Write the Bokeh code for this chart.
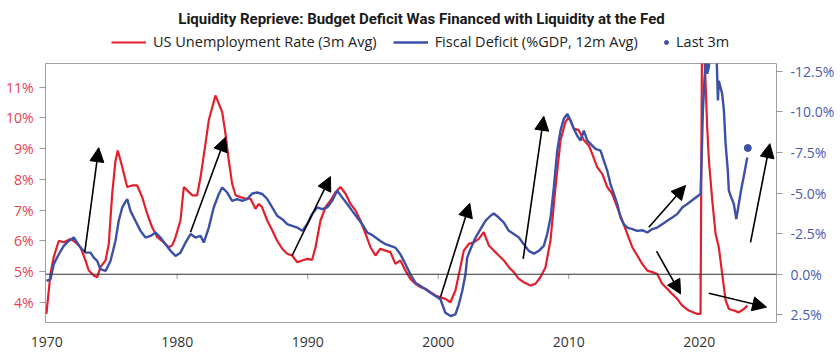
from bokeh.plotting import figure
from bokeh.layouts import column
from bokeh.models import (Range1d, LinearAxis, FixedTicker, PrintfTickFormatter, Legend, LegendItem,
                          Span, Arrow, NormalHead, Label)
from bokeh.embed import file_html
from bokeh.resources import INLINE

TITLE = "Liquidity Reprieve: Budget Deficit Was Financed with Liquidity at the Fed"
LABEL_UNEMP = "US Unemployment Rate (3m Avg)"
LABEL_FISCAL = "Fiscal Deficit (%GDP, 12m Avg)"
LABEL_LAST = "Last 3m"

# US unemployment rate, 3m avg (%)
unemp_year = [1969.98, 1970.29, 1970.54, 1970.93, 1971.31, 1971.82, 1972.21, 1972.59, 1972.97, 1973.23,
              1973.61, 1973.87, 1974.12, 1974.51, 1974.76, 1975.02, 1975.27, 1975.45, 1975.79, 1976.17,
              1976.55, 1976.93, 1977.32, 1977.70, 1978.08, 1978.47, 1978.97, 1979.36, 1979.62, 1979.87,
              1980.25, 1980.51, 1980.77, 1981.15, 1981.53, 1981.79, 1982.17, 1982.42, 1982.93, 1983.19,
              1983.45, 1983.70, 1983.95, 1984.21, 1984.47, 1984.85, 1985.23, 1985.62, 1986.00, 1986.25,
              1986.51, 1986.90, 1987.28, 1987.66, 1988.05, 1988.43, 1988.81, 1989.20, 1989.58, 1989.96,
              1990.34, 1990.60, 1990.98, 1991.36, 1991.75, 1992.13, 1992.51, 1992.90, 1993.28, 1993.66,
              1994.04, 1994.43, 1994.81, 1995.19, 1995.57, 1995.96, 1996.34, 1996.72, 1997.10, 1997.49,
              1997.87, 1998.25, 1998.64, 1999.02, 1999.40, 1999.79, 2000.17, 2000.55, 2000.94, 2001.32,
              2001.70, 2001.96, 2002.34, 2002.73, 2003.11, 2003.49, 2003.88, 2004.26, 2004.64, 2005.03,
              2005.41, 2005.79, 2006.18, 2006.56, 2007.07, 2007.45, 2007.84, 2008.22, 2008.60, 2008.99,
              2009.37, 2009.75, 2010.01, 2010.39, 2010.77, 2011.16, 2011.54, 2011.80, 2012.18, 2012.57,
              2012.95, 2013.33, 2013.72, 2014.10, 2014.48, 2014.87, 2015.25, 2015.63, 2016.02, 2016.40,
              2016.78, 2017.16, 2017.55, 2017.93, 2018.31, 2018.70, 2019.20, 2019.85, 2020.10, 2020.22,
              2020.32, 2020.48, 2020.61, 2020.74, 2021.00, 2021.25, 2021.50, 2021.76, 2022.02, 2022.27,
              2022.65, 2023.03, 2023.42, 2023.68]
unemp_rate = [3.62, 4.92, 5.47, 6.00, 5.95, 6.06, 5.95, 5.79, 5.36, 5.03,
              4.87, 4.81, 5.14, 5.36, 5.90, 7.53, 8.60, 8.94, 8.40, 7.75,
              7.80, 7.80, 7.42, 6.88, 6.44, 6.12, 5.95, 5.79, 5.85, 6.12,
              6.66, 7.75, 7.64, 7.48, 7.48, 8.07, 9.16, 9.92, 10.73, 10.46,
              10.19, 9.49, 8.62, 7.86, 7.48, 7.42, 7.37, 7.37, 7.04, 7.20,
              7.09, 6.66, 6.34, 6.00, 5.74, 5.58, 5.52, 5.30, 5.36, 5.41,
              5.38, 5.79, 6.66, 7.09, 7.31, 7.58, 7.75, 7.53, 7.20, 6.99,
              6.66, 6.23, 5.79, 5.52, 5.74, 5.68, 5.63, 5.25, 5.36, 5.03,
              4.76, 4.60, 4.49, 4.44, 4.33, 4.22, 4.16, 4.11, 4.00, 4.38,
              5.14, 5.68, 5.90, 5.95, 6.06, 6.28, 5.85, 5.68, 5.52, 5.36,
              5.14, 4.98, 4.76, 4.65, 4.54, 4.60, 4.82, 5.14, 6.00, 7.75,
              9.27, 9.87, 10.03, 9.65, 9.60, 9.27, 9.10, 8.83, 8.40, 8.18,
              7.75, 7.53, 7.09, 6.66, 6.23, 5.79, 5.52, 5.25, 5.03, 4.98,
              4.92, 4.60, 4.44, 4.27, 4.11, 3.89, 3.73, 3.62, 3.62, 13.2,
              13.0, 11.2, 9.70, 8.62, 7.31, 6.23, 5.79, 4.92, 4.06, 3.78,
              3.73, 3.67, 3.78, 3.89]

# Fiscal balance, % of GDP, 12m avg (negative = deficit)
fiscal_year = [1969.98, 1970.29, 1970.54, 1970.93, 1971.31, 1971.69, 1972.08, 1972.34, 1972.59, 1972.97,
               1973.36, 1973.61, 1973.87, 1974.12, 1974.51, 1974.89, 1975.27, 1975.52, 1975.79, 1976.17,
               1976.42, 1976.80, 1977.19, 1977.57, 1977.95, 1978.34, 1978.72, 1979.10, 1979.49, 1979.87,
               1980.25, 1980.64, 1981.02, 1981.40, 1981.79, 1982.04, 1982.42, 1982.80, 1983.19, 1983.45,
               1983.83, 1984.21, 1984.60, 1984.98, 1985.36, 1985.75, 1986.13, 1986.51, 1986.90, 1987.28,
               1987.66, 1988.05, 1988.43, 1988.81, 1989.20, 1989.58, 1989.96, 1990.34, 1990.73, 1991.11,
               1991.49, 1991.88, 1992.26, 1992.64, 1993.03, 1993.41, 1993.79, 1994.18, 1994.56, 1994.81,
               1995.20, 1995.57, 1995.96, 1996.34, 1996.72, 1997.10, 1997.49, 1997.87, 1998.25, 1998.64,
               1999.02, 1999.40, 1999.79, 2000.17, 2000.55, 2000.94, 2001.32, 2001.58, 2001.84, 2002.09,
               2002.22, 2002.47, 2002.86, 2003.24, 2003.62, 2004.01, 2004.26, 2004.64, 2005.03, 2005.41,
               2005.79, 2006.18, 2006.56, 2006.94, 2007.33, 2007.71, 2008.09, 2008.35, 2008.61, 2008.86,
               2009.12, 2009.37, 2009.62, 2009.89, 2010.14, 2010.39, 2010.65, 2010.90, 2011.16, 2011.42,
               2011.67, 2012.05, 2012.44, 2012.69, 2012.95, 2013.20, 2013.46, 2013.72, 2013.97, 2014.22,
               2014.48, 2014.87, 2015.25, 2015.63, 2016.02, 2016.40, 2016.78, 2017.16, 2017.55, 2017.93,
               2018.31, 2018.70, 2019.08, 2019.59, 2020.10, 2020.18, 2020.28, 2020.41, 2020.54, 2020.61,
               2020.74, 2020.87, 2021.10, 2021.33, 2021.43, 2021.50, 2021.76, 2021.89, 2022.02, 2022.19,
               2022.27, 2022.45, 2022.65, 2022.84, 2023.03, 2023.22, 2023.42, 2023.68]
fiscal_bal = [0.41, 0.31, -0.62, -1.23, -1.75, -2.05, -2.26, -1.95, -1.64, -1.33,
              -1.33, -1.02, -0.82, -0.31, -0.20, -0.82, -2.05, -3.29, -4.11, -4.63,
              -3.90, -3.29, -2.67, -2.26, -2.36, -2.57, -2.26, -1.85, -1.44, -1.13,
              -1.33, -1.95, -2.47, -2.26, -2.36, -1.95, -2.87, -4.11, -4.94, -5.34,
              -5.03, -4.52, -4.63, -4.52, -4.63, -4.97, -5.03, -4.94, -4.63, -4.11,
              -3.60, -3.39, -3.08, -2.98, -2.87, -2.67, -3.08, -3.70, -4.11, -4.01,
              -4.11, -4.52, -5.14, -4.73, -4.32, -3.90, -3.49, -3.08, -2.57, -2.47,
              -2.26, -2.05, -1.85, -1.75, -1.64, -1.23, -0.62, 0.00, 0.52, 0.72,
              0.93, 1.14, 1.34, 1.54, 2.37, 2.57, 2.47, 1.85, 1.03, 0.00,
              -1.02, -1.54, -2.26, -2.78, -3.29, -3.60, -3.74, -3.49, -3.18, -2.67,
              -2.47, -2.26, -1.85, -1.44, -1.27, -1.44, -1.75, -2.47, -3.49, -5.34,
              -7.61, -8.84, -9.56, -9.87, -9.46, -8.95, -8.53, -8.22, -8.84, -8.22,
              -8.02, -7.71, -7.61, -6.99, -6.37, -5.55, -4.94, -4.32, -3.49, -3.08,
              -2.87, -2.78, -2.67, -2.71, -2.57, -2.78, -2.87, -3.08, -3.29, -3.49,
              -3.70, -4.11, -4.32, -4.63, -4.94, -6.99, -10.07, -12.13, -13.4, -12.34,
              -12.75, -15.0, -16.0, -13.4, -10.7, -11.9, -11.1, -10.07, -8.02, -6.37,
              -5.14, -4.73, -4.32, -3.39, -4.32, -5.24, -6.06, -7.19]

last3m_year = [2023.72]
last3m_bal = [-7.77]

x_ticks = [1970, 1980, 1990, 2000, 2010, 2020]
left_ticks = [4, 5, 6, 7, 8, 9, 10, 11]
right_ticks = [-12.5, -10.0, -7.5, -5.0, -2.5, 0.0, 2.5]

# arrows: (year start, unemp start, year end, unemp end) on the left scale
arrow_x0 = [1972.92, 1981.02, 1988.81, 2000.17, 2006.51, 2016.14, 2016.73, 2020.74, 2023.93]
arrow_y0 = [5.63, 6.28, 5.52, 4.16, 5.41, 6.44, 5.66, 4.29, 5.95]
arrow_x1 = [1973.99, 1983.70, 1991.75, 2002.42, 2008.09, 2018.95, 2018.57, 2025.16, 2025.41]
arrow_y1 = [9.03, 9.37, 8.09, 7.22, 10.05, 7.80, 4.27, 3.84, 9.16]

RED = "#E31F2D"
BLUE = "#3B50A6"
RED_LBL = "#E8414B"
BLUE_LBL = "#4A5BAD"
FONT = "Open Sans"
NAN = float("nan")

BORDER_L, BORDER_R = 45, 64

# ---------- header: title + legend (frame aligned with the chart below) ----------
top = figure(frame_width=731, frame_height=56, x_range=Range1d(45, 776), y_range=Range1d(0, 56),
             x_axis_type=None, y_axis_type=None, output_backend="svg", toolbar_location=None,
             min_border_left=BORDER_L, min_border_right=BORDER_R, min_border_top=0, min_border_bottom=0)
top.grid.visible = False
top.outline_line_color = None
top.add_layout(Label(x=421, y=38, text=TITLE, text_align="center", text_baseline="middle",
                     text_font="Roboto", text_font_style="bold", text_font_size="15px",
                     text_color="#1a1a1a"))
lg_red = top.line(x=[NAN], y=[NAN], line_color=RED, line_width=2.2)
lg_blue = top.line(x=[NAN], y=[NAN], line_color=BLUE, line_width=2.4)
lg_dot = top.scatter(x=[NAN], y=[NAN], size=7, fill_color=BLUE, line_color=BLUE)
leg1 = Legend(items=[LegendItem(label=LABEL_UNEMP, renderers=[lg_red]),
                     LegendItem(label=LABEL_FISCAL, renderers=[lg_blue])],
              orientation="horizontal", location=(66, 5), border_line_color=None,
              background_fill_alpha=0, glyph_width=35, glyph_height=14, label_standoff=7,
              spacing=16, padding=2, margin=0,
              label_text_font=FONT, label_text_font_size="14.5px", label_text_color="#222222")
leg2 = Legend(items=[LegendItem(label=LABEL_LAST, renderers=[lg_dot])],
              orientation="horizontal", location=(616, 5), border_line_color=None,
              background_fill_alpha=0, glyph_width=10, glyph_height=14, label_standoff=5,
              spacing=0, padding=2, margin=0,
              label_text_font=FONT, label_text_font_size="14.5px", label_text_color="#222222")
top.add_layout(leg1, "center")
top.add_layout(leg2, "center")

# ---------- main chart ----------
p = figure(frame_width=731, frame_height=259, x_range=Range1d(1969.91, 2025.92), y_range=Range1d(3.34, 11.77),
           output_backend="svg", toolbar_location=None,
           min_border_left=BORDER_L, min_border_right=BORDER_R, min_border_top=7, min_border_bottom=37)
p.extra_y_ranges = {"right": Range1d(start=2.97, end=-12.97)}

p.grid.visible = False
p.outline_line_color = "#a0a0a0"
p.outline_line_width = 1

# bottom axis
xa = p.xaxis[0]
xa.ticker = FixedTicker(ticks=x_ticks)
xa.formatter = PrintfTickFormatter(format="%d")
xa.major_tick_line_color = None
xa.major_tick_out = 0
xa.major_tick_in = 0
xa.minor_tick_line_color = None
xa.axis_line_color = None
xa.major_label_text_font = FONT
xa.major_label_text_font_size = "14px"
xa.major_label_text_color = "#333333"
xa.major_label_standoff = 14

# left axis
ya = p.yaxis[0]
ya.ticker = FixedTicker(ticks=left_ticks)
ya.formatter = PrintfTickFormatter(format="%d%%")
ya.major_tick_line_color = "#999999"
ya.major_tick_out = 6
ya.major_tick_in = 0
ya.minor_tick_line_color = None
ya.axis_line_color = None
ya.major_label_text_font = FONT
ya.major_label_text_font_size = "14px"
ya.major_label_text_color = RED_LBL
ya.major_label_standoff = 6

# right axis
ra = LinearAxis(y_range_name="right", ticker=FixedTicker(ticks=right_ticks),
                formatter=PrintfTickFormatter(format="%.1f%%"))
ra.major_tick_line_color = "#999999"
ra.major_tick_out = 6
ra.major_tick_in = 0
ra.minor_tick_line_color = None
ra.axis_line_color = None
ra.major_label_text_font = FONT
ra.major_label_text_font_size = "14px"
ra.major_label_text_color = BLUE_LBL
ra.major_label_standoff = 8
p.add_layout(ra, "right")

# zero line with decade tick marks
p.add_layout(Span(location=0, dimension="width", y_range_name="right", line_color="#333333", line_width=1.2))
p.segment(x0=x_ticks[1:], x1=x_ticks[1:], y0=[0] * 5, y1=[0.3] * 5, y_range_name="right",
          line_color="#999999", line_width=1)

p.line(unemp_year, unemp_rate, line_color=RED, line_width=2.2)
p.line(fiscal_year, fiscal_bal, line_color=BLUE, line_width=2.4, y_range_name="right")
p.scatter(x=last3m_year, y=last3m_bal, size=7, fill_color=BLUE, line_color=BLUE, y_range_name="right")

for i in range(len(arrow_x0)):
    p.add_layout(Arrow(x_start=arrow_x0[i], y_start=arrow_y0[i], x_end=arrow_x1[i], y_end=arrow_y1[i],
                       line_color="black", line_width=1.6,
                       end=NormalHead(size=14, fill_color="black", line_color="black")))

layout = column(top, p, spacing=0)
open("out.html", "w").write(file_html(layout, INLINE))
